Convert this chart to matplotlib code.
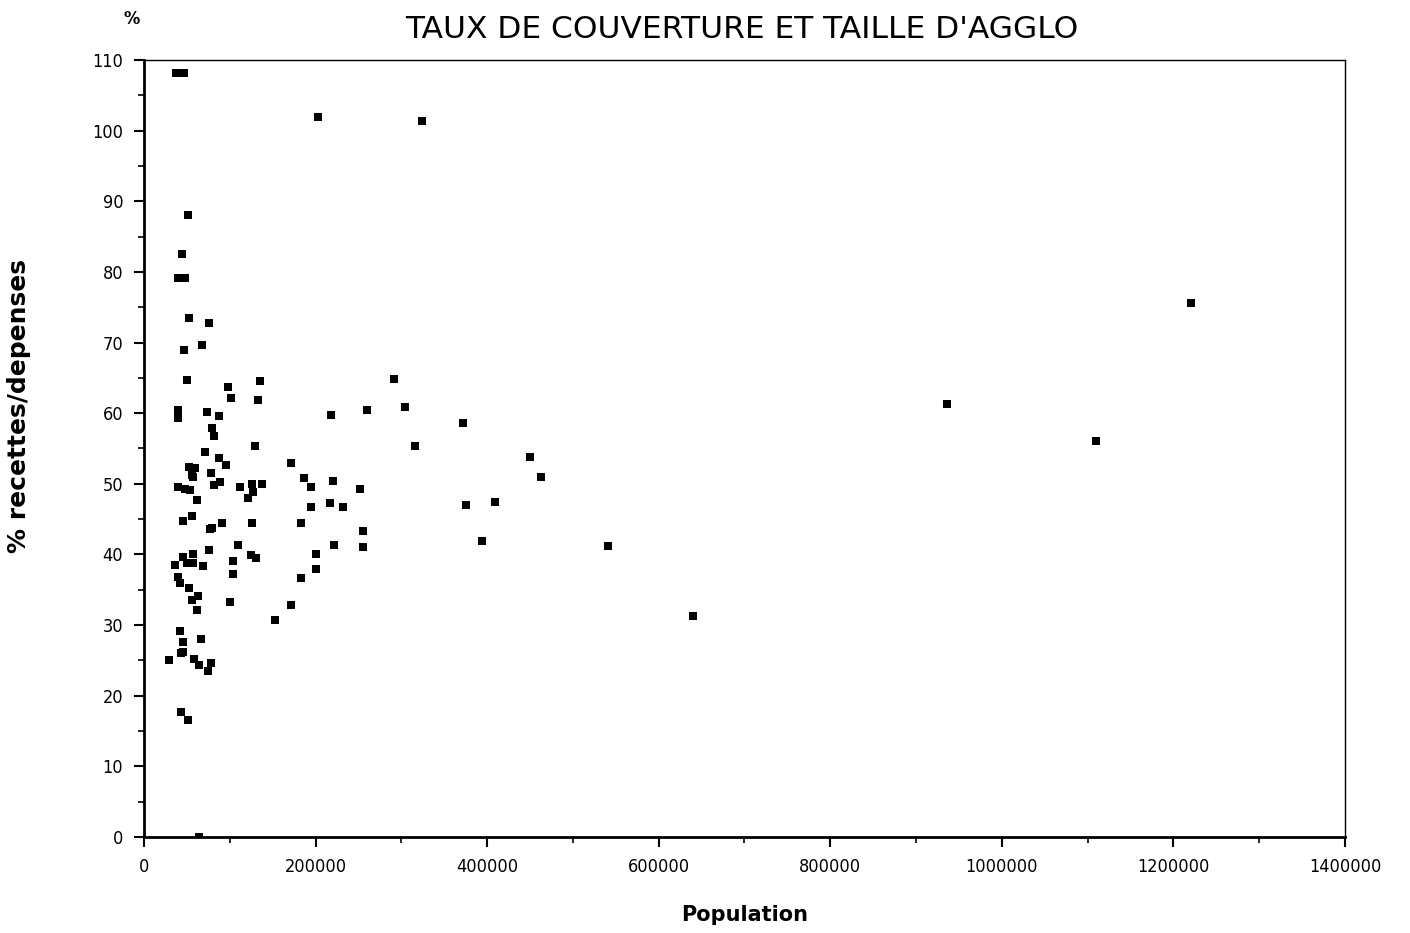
import matplotlib
matplotlib.use("Agg")
import matplotlib.pyplot as plt
from matplotlib.ticker import MultipleLocator

# population of each agglomeration
population = [
    37000, 42000, 46500, 202700, 324000, 51500, 44200, 40100, 47700, 52300,
    75900, 46900, 67800, 50400, 98500, 135700, 101200, 132900, 39200, 39200,
    73600, 87200, 79100, 81700, 129100, 70900, 87200, 95400, 171800, 52700,
    59300, 55500, 57300, 78700, 81400, 89200, 112400, 126400, 127100, 138000,
    121300, 39200, 47700, 53500, 61300, 45000, 55500, 76700, 79400, 90400,
    126400, 183400, 109700, 75900, 125200, 130200, 103800, 36100, 45000, 50400,
    57300, 57300, 68300, 103800, 39200, 41900, 52700, 63100, 55500, 61300,
    100800, 152300, 171800, 41900, 45000, 45000, 42700, 66300, 29400, 58500,
    64000, 77600, 74400, 43000, 51200, 64300,
    291100, 218300, 260500, 304700, 371800, 315500, 449700, 463200, 186100, 194200,
    220600, 252300, 195000, 216300, 232200, 375200, 409000, 255800, 221800, 255800,
    394500, 200000, 200000, 183400,
    540700, 639900, 936100, 1109700, 1220100,
]

# recettes / depenses, in %
coverage = [
    108.2, 108.2, 108.2, 102.0, 101.3, 88.1, 82.5, 79.1, 79.1, 73.5,
    72.7, 68.9, 69.7, 64.7, 63.7, 64.6, 62.2, 61.8, 60.4, 59.3,
    60.1, 59.6, 57.9, 56.7, 55.3, 54.5, 53.7, 52.6, 53.0, 52.4,
    52.2, 51.2, 51.0, 51.5, 49.9, 50.3, 49.6, 50.0, 48.8, 50.0,
    48.0, 49.6, 49.2, 49.1, 47.7, 44.8, 45.5, 43.6, 43.7, 44.4,
    44.4, 44.4, 41.4, 40.7, 39.9, 39.5, 39.1, 38.5, 39.7, 38.8,
    40.1, 38.8, 38.4, 37.3, 36.8, 35.9, 35.2, 34.1, 33.6, 32.1,
    33.3, 30.7, 32.8, 29.2, 27.6, 26.2, 26.0, 28.0, 25.1, 25.2,
    24.3, 24.7, 23.5, 17.7, 16.5, 0.0,
    64.8, 59.7, 60.5, 60.9, 58.6, 55.3, 53.8, 50.9, 50.8, 49.6,
    50.4, 49.2, 46.7, 47.3, 46.7, 47.0, 47.4, 43.3, 41.4, 41.0,
    41.9, 40.0, 38.0, 36.6,
    41.2, 31.3, 61.3, 56.1, 75.6,
]

plt.rcParams['font.family'] = ['DejaVu Sans']
plt.rcParams['font.stretch'] = 'condensed'

fig = plt.figure(figsize=(14.1, 9.33), dpi=100)
ax = fig.add_axes([0.1021, 0.1029, 0.8518, 0.8328])

ax.scatter(population, coverage, marker='s', s=26, color='black', linewidths=0)

ax.set_xlim(0, 1400000)
ax.set_ylim(0, 110)
ax.xaxis.set_major_locator(MultipleLocator(200000))
ax.xaxis.set_minor_locator(MultipleLocator(100000))
ax.yaxis.set_major_locator(MultipleLocator(10))
ax.yaxis.set_minor_locator(MultipleLocator(5))
ax.ticklabel_format(style='plain', useOffset=False)
ax.tick_params(which='major', direction='out', length=7, width=1.5, labelsize=13, pad=8)
ax.tick_params(which='minor', direction='out', length=4, width=1.2)

for side in ['left', 'bottom']:
    ax.spines[side].set_linewidth(2)
for side in ['top', 'right']:
    ax.spines[side].set_linewidth(1)

ax.set_xlabel('Population', fontsize=15, fontweight='bold', fontstretch='normal')
ax.xaxis.set_label_coords(0.5, -0.087)
ax.set_ylabel('% recettes/depenses', fontsize=18, fontweight='bold', fontstretch='normal')
ax.yaxis.set_label_coords(-0.094, 0.555)
fig.text(0.526, 0.968, "TAUX DE COUVERTURE ET TAILLE D'AGGLO", ha='center', va='center',
         fontsize=22.5, fontstretch='normal')
fig.text(0.093, 0.98, '%', ha='center', va='center', fontsize=13, fontweight='bold')

fig.savefig('out.png', dpi=100, facecolor='white')
